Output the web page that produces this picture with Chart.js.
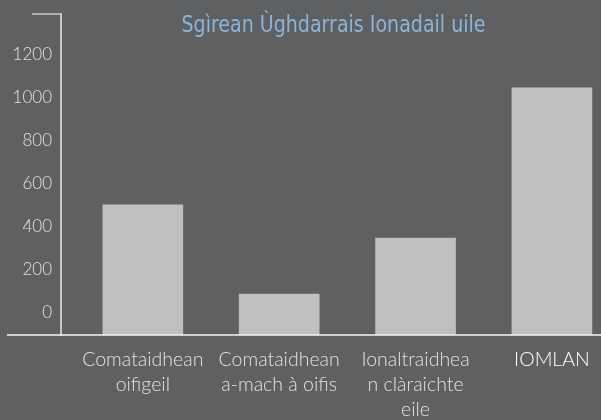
<!DOCTYPE html>
<html>
<head>
<meta charset="utf-8">
<script src="https://cdn.jsdelivr.net/npm/chart.js@4"></script>
<style>
  html, body { margin: 0; padding: 0; background: #5f6062; overflow: hidden; }
  #wrap { position: relative; width: 601px; height: 420px; }
</style>
</head>
<body>
<div id="wrap"><canvas id="chart"></canvas></div>
<script>
// ── Data ──────────────────────────────────────────────────────────────────────
const categories = [
  ['Comataidhean', 'oifigeil'],
  ['Comataidhean', 'a-mach à oifis'],
  ['Ionaltraidhea', 'n clàraichte', 'eile'],
  ['IOMLAN'],
];
const counts = [500, 84, 345, 1046];
const yTicks = [0, 200, 400, 600, 800, 1000, 1200];
const titleText = 'Sgìrean Ùghdarrais Ionadail uile';

const Y_MIN = -107;
const Y_MAX = 1391;

// ── Frame: title, top stub, extended base line ───────────────────────────────
const frame = {
  id: 'frame',
  afterDraw(chart) {
    const { ctx, chartArea: a } = chart;
    ctx.save();
    ctx.strokeStyle = '#c6c7c9';
    ctx.lineWidth = 1.5;
    ctx.beginPath();
    ctx.moveTo(32, a.top);
    ctx.lineTo(a.left, a.top);
    ctx.stroke();

    ctx.strokeStyle = '#f4f4f4';
    ctx.lineWidth = 1.5;
    ctx.beginPath();
    ctx.moveTo(7, a.bottom);
    ctx.lineTo(a.right, a.bottom);
    ctx.stroke();

    ctx.fillStyle = '#8db3da';
    ctx.font = '23px "DejaVu Sans Condensed", sans-serif';
    ctx.textAlign = 'center';
    ctx.textBaseline = 'middle';
    ctx.translate(333.5, 26);
    ctx.scale(0.92, 1);
    ctx.fillText(titleText, 0, 0);
    ctx.restore();
  },
};

new Chart(document.getElementById('chart'), {
  type: 'bar',
  data: {
    datasets: [{
      data:            counts.map((v, i) => ({ x: i, y: v })),
      backgroundColor: '#bebfc1',
      borderWidth:     0,
      barThickness:    80,
      base:            Y_MIN,
    }],
  },
  options: {
    responsive:          true,
    maintainAspectRatio: false,
    animation:           false,
    layout: { padding: { top: 14, right: 0, bottom: 0, left: 0 } },
    plugins: {
      legend:  { display: false },
      tooltip: { enabled: false },
    },
    scales: {
      x: {
        type:   'linear',
        offset: false,
        min:    -0.60,
        max:    3.36,
        afterBuildTicks: (axis) => { axis.ticks = categories.map((c, i) => ({ value: i })); },
        afterFit: (axis) => { axis.height = 85; axis.paddingLeft = 0; axis.paddingRight = 0; },
        grid:   { display: false, drawTicks: false },
        border: { display: false },
        ticks: {
          autoSkip:    false,
          maxRotation: 0,
          padding:     12,
          callback:    (v, i) => categories[i],
          color:       (ctx) => (ctx.index === 3 ? '#ffffff' : '#e2e2e2'),
          font: { family: 'Lato, "Open Sans", sans-serif', size: 19.5, weight: 300, lineHeight: 1.28 },
        },
      },
      y: {
        min: Y_MIN,
        max: Y_MAX,
        afterBuildTicks: (axis) => { axis.ticks = yTicks.map((v) => ({ value: v })); },
        afterFit: (axis) => { axis.width = 61; axis.paddingTop = 0; axis.paddingBottom = 0; },
        grid:   { display: false, drawTicks: false },
        border: { display: true, color: '#c6c7c9', width: 2 },
        ticks: {
          padding:  9,
          color:    '#e2e2e2',
          callback: (v) => String(v),
          font: { family: 'Lato, "Open Sans", sans-serif', size: 17, weight: 300 },
        },
      },
    },
  },
  plugins: [frame],
});
</script>
</body>
</html>
